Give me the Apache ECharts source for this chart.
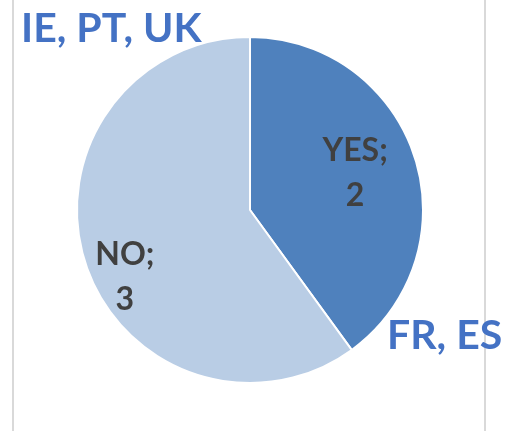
<!DOCTYPE html>
<html>
<head>
<meta charset="utf-8">
<script src="https://cdn.jsdelivr.net/npm/echarts@6/dist/echarts.min.js"></script>
<style>
  html, body { margin: 0; padding: 0; background: #fff; }
  #chart { width: 508px; height: 431px; }
</style>
</head>
<body>
<div id="chart"></div>
<script>
const categories = ['YES', 'NO'];
const counts = [2, 3];
const sliceColors = ['#4F81BD', '#B9CDE5'];
const countryNotes = ['IE, PT, UK', 'FR, ES'];

// label nudges so the text sits where the original chart put it
const labelOffsets = [[20, -9], [-40, 40]];

const chart = echarts.init(document.getElementById('chart'));

const options = {
    animation: false,
    graphic: [
        { type: 'rect', left: 12, top: 0, shape: { width: 2, height: 431 }, style: { fill: '#D9D9D9' } },
        { type: 'rect', left: 484, top: 0, shape: { width: 2, height: 431 }, style: { fill: '#D9D9D9' } },
        {
            type: 'text', left: 21, top: 8, z: 10,
            style: { text: countryNotes[0], fill: '#4472C4', font: 'bold 41px Lato' }
        },
        {
            type: 'text', left: 387, top: 315, z: 10,
            style: { text: countryNotes[1], fill: '#4472C4', font: 'bold 41px Lato' }
        }
    ],
    series: [{
        type: 'pie',
        center: [250, 210],
        radius: [0, 173],
        startAngle: 90,
        clockwise: true,
        itemStyle: { borderColor: '#fff', borderWidth: 2 },
        label: {
            position: 'inside',
            formatter: '{b};\n{c}',
            color: '#404040',
            fontFamily: 'Lato',
            fontWeight: 'bold',
            fontSize: 32,
            lineHeight: 45,
            align: 'center'
        },
        labelLine: { show: false },
        emphasis: { disabled: true },
        data: categories.map((name, i) => ({
            name: name,
            value: counts[i],
            itemStyle: { color: sliceColors[i] },
            label: { offset: labelOffsets[i] }
        }))
    }]
};

chart.setOption(options);
</script>
</body>
</html>
